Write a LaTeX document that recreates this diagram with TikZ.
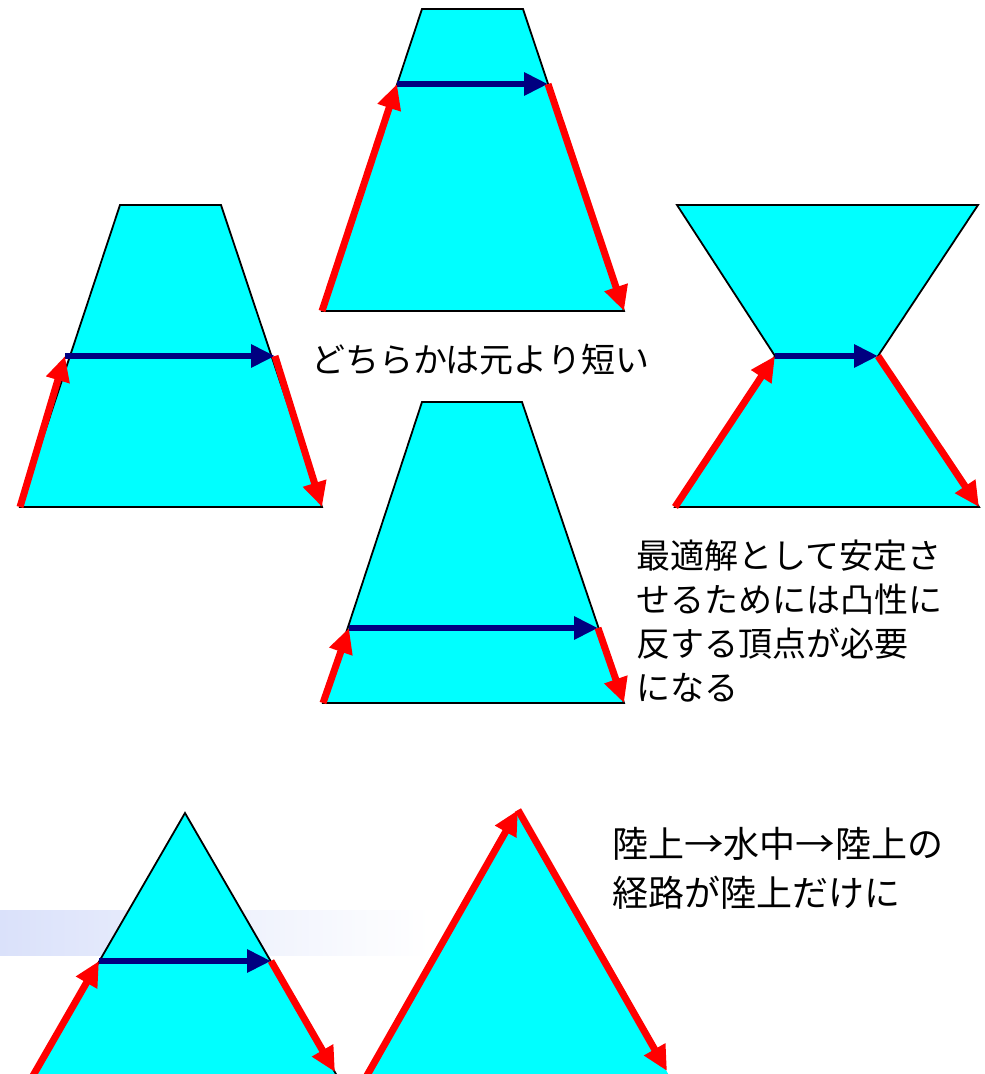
\documentclass[tikz,border=0pt]{standalone}
\usepackage{fontspec}
\newfontfamily\jp{Noto Sans CJK JP}
\usetikzlibrary{arrows.meta}
\definecolor{water}{RGB}{0,255,255}
\definecolor{redarr}{RGB}{255,0,0}
\definecolor{navyarr}{RGB}{0,0,128}
\definecolor{band}{RGB}{218,225,250}
\newcommand{\widearrow}{\makebox[1.1em][c]{\scalebox{1.1}[1]{→}}}
\begin{document}
\begin{tikzpicture}[x=1pt,y=-1pt,
  poly/.style={fill=water,draw=black,line width=1.8pt,line join=miter},
  redarrow/.style={draw=redarr,line width=7pt,-{Triangle[length=25pt,width=23pt]}},
  bluearrow/.style={draw=navyarr,line width=6.5pt,-{Triangle[length=24pt,width=22pt]}},
  txt/.style={font=\jp\fontsize{34}{44}\selectfont,inner sep=0pt,align=left,text=black}]
\useasboundingbox (0,0) rectangle (985,1074);
\clip (0,0) rectangle (985,1074);
\fill[white] (0,0) rectangle (985,1074);
% light band
\shade[left color=band,right color=white] (0,910) rectangle (430,955);

% A: top trapezoid
\coordinate (a1) at (322,311); \coordinate (a2) at (422,9);
\coordinate (a3) at (523,9);   \coordinate (a4) at (624,311);
\coordinate (aL) at (397,84);  \coordinate (aR) at (548,84);
\draw[poly] (a1)--(a2)--(a3)--(a4)--cycle;
\draw[bluearrow] (aL)--(aR);
\draw[redarrow] (a1)--(aL);
\draw[redarrow] (aR)--(a4);

% B: left trapezoid
\coordinate (b1) at (20,507);  \coordinate (b2) at (120,205);
\coordinate (b3) at (221,205); \coordinate (b4) at (322,507);
\coordinate (bL) at (65,356);  \coordinate (bR) at (275,356);
\draw[poly] (b1)--(b2)--(b3)--(b4)--cycle;
\draw[bluearrow] (bL)--(bR);
\draw[redarrow] (b1)--(bL);
\draw[redarrow] (bR)--(b4);

% C: hourglass
\coordinate (c1) at (677,205); \coordinate (c2) at (978,205);
\coordinate (cR) at (878,356); \coordinate (c3) at (979,507);
\coordinate (c4) at (675,507); \coordinate (cL) at (775,356);
\draw[poly] (c1)--(c2)--(cR)--(c3)--(c4)--(cL)--cycle;
\draw[bluearrow] (cL)--(cR);
\draw[redarrow] (c4)--(cL);
\draw[redarrow] (cR)--(c3);

% D: middle lower trapezoid
\coordinate (d1) at (323,703); \coordinate (d2) at (422,402);
\coordinate (d3) at (522,402); \coordinate (d4) at (624,703);
\coordinate (dL) at (349,628); \coordinate (dR) at (598,628);
\draw[poly] (d1)--(d2)--(d3)--(d4)--cycle;
\draw[bluearrow] (dL)--(dR);
\draw[redarrow] (d1)--(dL);
\draw[redarrow] (dR)--(d4);

% E: bottom-left triangle
\coordinate (e1) at (19,1100); \coordinate (e2) at (185,813);
\coordinate (e3) at (351,1100);
\coordinate (eL) at (99,961);  \coordinate (eR) at (271,961);
\coordinate (eEnd) at (335,1072);
\draw[poly] (e1)--(e2)--(e3)--cycle;
\draw[bluearrow] (eL)--(eR);
\draw[redarrow] (e1)--(eL);
\draw[redarrow] (eR)--(eEnd);

% F: bottom-middle triangle
\coordinate (f1) at (353,1100); \coordinate (f2) at (518,810);
\coordinate (f3) at (683,1100); \coordinate (fEnd) at (667,1071);
\draw[poly,draw=none] (f1)--(f2)--(f3)--cycle;
\draw[redarrow] (f1)--(f2);
\draw[redarrow] (f2)--(fEnd);

% texts
\node[txt,anchor=west] (t1) at (311,360) {どちらかは元より短い};
\node[txt,anchor=north west] (t2) at (636,540) {最適解として安定さ\\せるためには凸性に\\反する頂点が必要\\になる};
\node[txt,anchor=north west,font=\jp\fontsize{36}{49}\selectfont] (t3) at (612,827) {陸上\widearrow 水中\widearrow 陸上の\\経路が陸上だけに};
\end{tikzpicture}
\end{document}
